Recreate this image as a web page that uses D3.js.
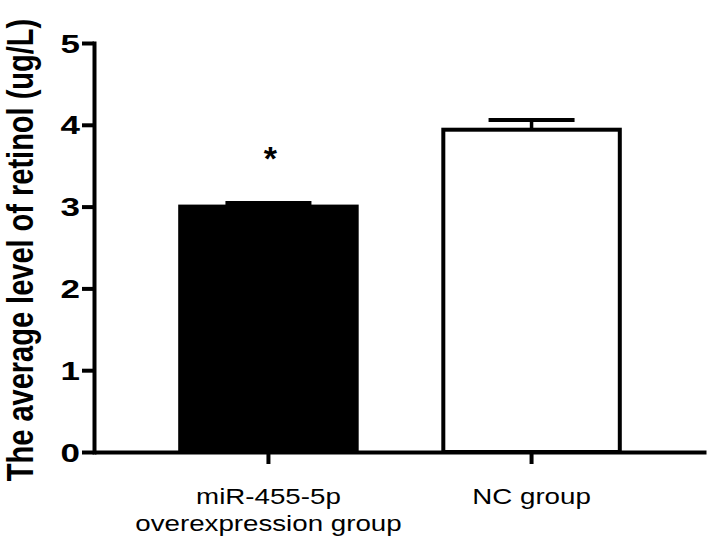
<!DOCTYPE html>
<html><head><meta charset="utf-8">
<script src="https://cdn.jsdelivr.net/npm/d3@7"></script>
<style>
body{margin:0;background:#fff;}
text{font-family:"Liberation Sans", Arial, Helvetica, sans-serif;fill:#000;}
</style>
</head><body>
<svg id="chart" width="709" height="544"></svg>
<script>
// ---- data ----
const categories = ["miR-455-5p\noverexpression group", "NC group"];
const means = [3.00, 3.94];
const errors = [0.045, 0.12];
const barFills = ["#000000", "#ffffff"];
const significance = ["*", ""];
const yTicks = [0, 1, 2, 3, 4, 5];
const yTitle = "The average level of retinol (ug/L)";

// ---- layout ----
const svg = d3.select("#chart");
const axisX = 94, axisRight = 706, yTop = 43, yBottom = 452;

const y = d3.scaleLinear().domain([0, 5]).range([yBottom, yTop]);
const x = d3.scaleBand().domain(categories).range([axisX, axisRight])
  .paddingInner(0.314).paddingOuter(0.32);

// bars
svg.selectAll("rect.bar").data(categories).join("rect")
  .attr("class", "bar")
  .attr("x", d => x(d) + 2)
  .attr("width", x.bandwidth() - 4)
  .attr("y", (d, i) => y(means[i]))
  .attr("height", (d, i) => y(0) - y(means[i]))
  .attr("fill", (d, i) => barFills[i])
  .attr("stroke", "#000")
  .attr("stroke-width", 4);

// error bars
const capHalf = 43;
categories.forEach((c, i) => {
  const cx = x(c) + x.bandwidth() / 2;
  svg.append("line")
    .attr("x1", cx).attr("x2", cx)
    .attr("y1", y(means[i])).attr("y2", y(means[i] + errors[i]))
    .attr("stroke", "#000").attr("stroke-width", 3.5);
  svg.append("line")
    .attr("x1", cx - capHalf).attr("x2", cx + capHalf)
    .attr("y1", y(means[i] + errors[i])).attr("y2", y(means[i] + errors[i]))
    .attr("stroke", "#000").attr("stroke-width", 4);
  if (significance[i]) {
    svg.append("text")
      .attr("x", cx + 2).attr("y", 170)
      .attr("text-anchor", "middle")
      .attr("font-size", 34).attr("font-weight", "bold")
      .text(significance[i]);
  }
});

// y axis
const gy = svg.append("g").attr("transform", `translate(${axisX},0)`)
  .call(d3.axisLeft(y).tickValues(yTicks).tickSize(12).tickSizeOuter(0).tickFormat(d3.format("d")));
gy.select(".domain").attr("stroke-width", 4).attr("stroke-linecap", "square");
gy.selectAll(".tick line").attr("stroke-width", 4);
gy.selectAll(".tick text")
  .attr("x", -10).attr("dy", "0.36em")
  .attr("transform", "scale(1.4,1)")
  .attr("font-size", 25).attr("font-weight", "bold")
  .attr("font-family", '"Liberation Sans", Arial, sans-serif');

// x axis
const gx = svg.append("g").attr("transform", `translate(0,${yBottom})`)
  .call(d3.axisBottom(x).tickSize(12).tickSizeOuter(0).tickFormat(""));
gx.select(".domain").attr("stroke-width", 4);
gx.selectAll(".tick line").attr("stroke-width", 4);

// category labels
categories.forEach(c => {
  const cx = x(c) + x.bandwidth() / 2;
  const g = svg.append("g").attr("transform", `translate(${cx},504) scale(1.26,1.03)`);
  c.split("\n").forEach((line, k) => {
    g.append("text").attr("x", 0).attr("y", k * 26)
      .attr("text-anchor", "middle").attr("font-size", 22)
      .text(line);
  });
});

// y title
svg.append("g").attr("transform", "translate(33,250) scale(1.25,1) rotate(-90)")
  .append("text")
  .attr("text-anchor", "middle")
  .attr("font-size", 29).attr("font-weight", "bold")
  .text(yTitle);
</script>
</body></html>
